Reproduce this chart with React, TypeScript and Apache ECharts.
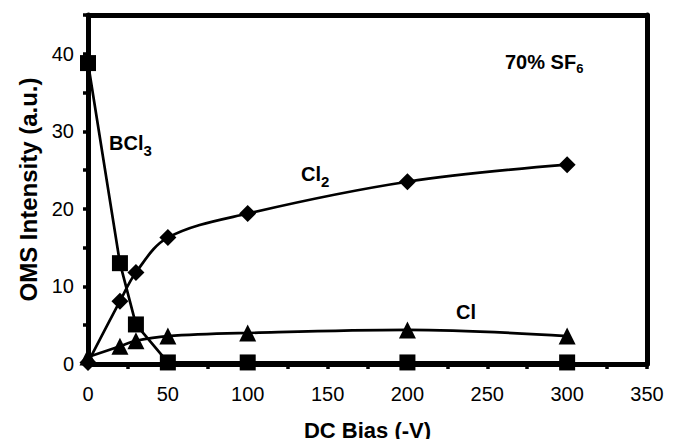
import React, { useEffect, useRef } from "react";
import * as echarts from "echarts";

const bias = [0, 20, 30, 50, 100, 200, 300];
const bcl3 = [38.8, 13.0, 5.1, 0.2, 0.2, 0.2, 0.2];
const cl2 = [0.2, 8.1, 11.8, 16.3, 19.4, 23.5, 25.7];
const cl = [0.9, 2.3, 3.0, 3.6, 4.0, 4.4, 3.6];

const font = "Liberation Sans, Arial, Helvetica, sans-serif";

const richSub = (sub: number, lineH: number) => ({
  b: { fontFamily: font, fontWeight: "bold", fontSize: 20, lineHeight: 22, fill: "#000", verticalAlign: "top" },
  s: {
    fontFamily: font,
    fontWeight: "bold",
    fontSize: sub,
    lineHeight: lineH,
    fill: "#000",
    verticalAlign: "bottom",
  },
});

export default function App() {
  const ref = useRef<HTMLDivElement>(null);
  useEffect(() => {
    if (!ref.current) return;
    const chart = echarts.init(ref.current, undefined, { renderer: "svg" });
    const pts = (ys: number[]) => bias.map((x, i) => [x, ys[i]]);
    const lineStyle = { color: "#000", width: 2.7 };
    const frameAxis = {
      type: "value",
      min: 0,
      axisLine: { show: true, onZero: false, lineStyle: { color: "#000", width: 5 } },
      axisTick: { show: false },
      axisLabel: { show: false },
      splitLine: { show: false },
    };
    chart.setOption({
      animation: false,
      backgroundColor: "#fff",
      grid: { left: 88, right: 30, top: 15, bottom: 83 },
      xAxis: [
        {
          type: "value",
          min: 0,
          max: 350,
          interval: 25,
          name: "DC Bias (-V)",
          nameLocation: "middle",
          nameGap: 55,
          nameTextStyle: { fontFamily: font, fontWeight: "bold", fontSize: 22, color: "#000" },
          axisLine: { show: true, onZero: false, lineStyle: { color: "#000", width: 5 } },
          axisTick: { show: true, length: 5, lineStyle: { color: "#000", width: 3.5 } },
          axisLabel: {
            fontFamily: font,
            fontSize: 20,
            color: "#000",
            margin: 20,
            formatter: (v: number) => (v % 50 === 0 ? String(v) : ""),
          },
          splitLine: { show: false },
        },
        { ...frameAxis, max: 350, position: "top" },
      ],
      yAxis: [
        {
          type: "value",
          min: 0,
          max: 45,
          interval: 5,
          name: "OMS Intensity (a.u.)",
          nameLocation: "middle",
          nameGap: 48,
          nameTextStyle: { fontFamily: font, fontWeight: "bold", fontSize: 24, color: "#000" },
          axisLine: { show: true, onZero: false, lineStyle: { color: "#000", width: 5 } },
          axisTick: { show: true, length: 5, lineStyle: { color: "#000", width: 3.5 } },
          axisLabel: {
            fontFamily: font,
            fontSize: 20,
            color: "#000",
            margin: 14,
            formatter: (v: number) => (v % 10 === 0 && v <= 40 ? String(v) : ""),
          },
          splitLine: { show: false },
        },
        { ...frameAxis, max: 45, position: "right" },
      ],
      series: [
        {
          name: "BCl3",
          type: "line",
          data: pts(bcl3),
          symbol: "rect",
          symbolSize: 16,
          itemStyle: { color: "#000" },
          lineStyle,
          z: 3,
        },
        {
          name: "Cl2",
          type: "line",
          data: pts(cl2),
          symbol: "diamond",
          symbolSize: [17, 17],
          smooth: 0.35,
          itemStyle: { color: "#000" },
          lineStyle,
        },
        {
          name: "Cl",
          type: "line",
          data: pts(cl),
          symbol: "triangle",
          symbolSize: 17,
          smooth: 0.35,
          itemStyle: { color: "#000" },
          lineStyle,
        },
      ],
      graphic: [
        { type: "text", left: 109, top: 133, style: { text: "{b|BCl}{s|3}", rich: richSub(15, 25) } },
        { type: "text", left: 301, top: 164, style: { text: "{b|Cl}{s|2}", rich: richSub(15, 25) } },
        { type: "text", left: 456, top: 302, style: { text: "{b|Cl}", rich: richSub(15, 25) } },
        { type: "text", left: 505, top: 52, style: { text: "{b|70% SF}{s|6}", rich: richSub(13, 23) } },
      ],
    });
    return () => chart.dispose();
  }, []);
  return <div ref={ref} style={{ width: 677, height: 447, margin: -8 }} />;
}
